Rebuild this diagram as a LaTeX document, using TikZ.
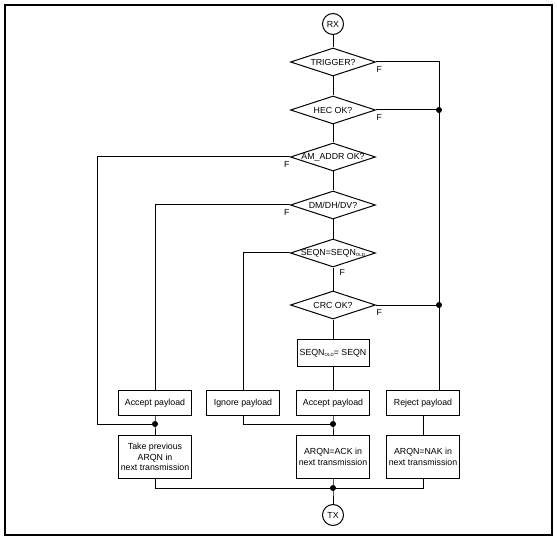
\documentclass[tikz,border=0pt]{standalone}
\usepackage{fontspec}
\setmainfont{Liberation Sans}
\usetikzlibrary{shapes.geometric}
\newcommand{\fsz}{\fontsize{8.8}{10.8}\selectfont}
\newcommand{\olds}{\raisebox{-1.6pt}{\fontsize{4.5}{5}\selectfont OLD}}
\begin{document}
\begin{tikzpicture}[x=1pt,y=-1pt,
  line width=1pt,
  box/.style={draw, rectangle, minimum width=73, minimum height=25, inner sep=1pt, align=center, font=\fsz},
  tall/.style={box, minimum height=43},
  dia/.style={draw, diamond, minimum width=85, minimum height=28, inner sep=0pt},
  dtext/.style={font=\fsz, inner sep=0pt},
  term/.style={draw, circle, minimum size=21, inner sep=0pt, font=\fsz},
  dot/.style={circle, fill, inner sep=0pt, minimum size=6},
  flab/.style={font=\fsz, inner sep=0pt},
  wire/.style={line width=1pt}]
\useasboundingbox (0,0) rectangle (557,540);
\draw[line width=2.4pt] (5,5) rectangle (552,535);

% start/end
\node[term] (rx) at (333,24) {RX};
\node[term] (tx) at (333,515) {TX};

% decisions
\node[dia, label={[dtext]center:TRIGGER?}] (trig) at (333,62) {};
\node[dia, label={[dtext]center:HEC OK?}] (hec) at (333,110) {};
\node[dia, label={[dtext]center:AM\_ADDR OK?}] (am) at (333,157) {};
\node[dia, label={[dtext]center:DM/DH/DV?}] (dm) at (333,205) {};
\node[dia, label={[dtext]center:{SEQN=SEQN\olds}}] (seq) at (333,253) {};
\node[dia, label={[dtext]center:CRC OK?}] (crc) at (333,305) {};

% F labels
\node[flab, anchor=north west] (f1) at ([xshift=0pt,yshift=-4pt]trig.east) {F};
\node[flab, anchor=north west] (f2) at ([xshift=0pt,yshift=-4pt]hec.east) {F};
\node[flab, anchor=north east] (f3) at ([xshift=0pt,yshift=-4pt]am.west) {F};
\node[flab, anchor=north east] (f4) at ([xshift=0pt,yshift=-4pt]dm.west) {F};
\node[flab, anchor=north west] (f5) at ([xshift=6pt,yshift=-1pt]seq.south) {F};
\node[flab, anchor=north west] (f6) at ([xshift=0pt,yshift=-4pt]crc.east) {F};

% boxes
\node[box, minimum width=72, minimum height=27] (old) at (333,353) {SEQN\olds= SEQN};
\node[box] (acc1) at (155,403) {Accept payload};
\node[box] (ign) at (243,403) {Ignore payload};
\node[box] (acc2) at (333,403) {Accept payload};
\node[box] (rej) at (423,403) {Reject payload};
\node[tall] (take) at (155,457) {Take previous\\ARQN in\\next transmission};
\node[tall] (ack) at (333,457) {ARQN=ACK in\\next transmission};
\node[tall] (nak) at (423,457) {ARQN=NAK in\\next transmission};

% junction dots
\node[dot] (jh) at (439,110) {};
\node[dot] (jc) at (439,305) {};
\node[dot] (j1) at (155,424) {};
\node[dot] (j2) at (333,424) {};
\node[dot] (j3) at (333,488) {};

% main chain
\draw[wire] (rx) -- (trig);
\draw[wire] (trig) -- (hec);
\draw[wire] (hec) -- (am);
\draw[wire] (am) -- (dm);
\draw[wire] (dm) -- (seq);
\draw[wire] (seq) -- (crc);
\draw[wire] (crc) -- (old);
\draw[wire] (old) -- (acc2);

% right branch
\draw[wire] (trig.east) -- (439,62) -- (jh.center);
\draw[wire] (hec.east) -- (jh.center);
\draw[wire] (jh.center) -- (jc.center);
\draw[wire] (crc.east) -- (jc.center);
\draw[wire] (jc.center) -- (rej.north -| jc.center);
\draw[wire] (rej) -- (nak);

% left branches
\draw[wire] (am.west) -- (97,157) -- (97,424) -- (j1.center);
\draw[wire] (dm.west) -| (acc1.north);
\draw[wire] (seq.west) -| (ign.north);
\draw[wire] (acc1) -- (j1.center) -- (take);
\draw[wire] (ign.south) |- (j2.center);
\draw[wire] (acc2) -- (j2.center) -- (ack);

% bottom
\draw[wire] (take.south) |- (j3.center);
\draw[wire] (nak.south) |- (j3.center);
\draw[wire] (ack) -- (j3.center) -- (tx);
\end{tikzpicture}
\end{document}
